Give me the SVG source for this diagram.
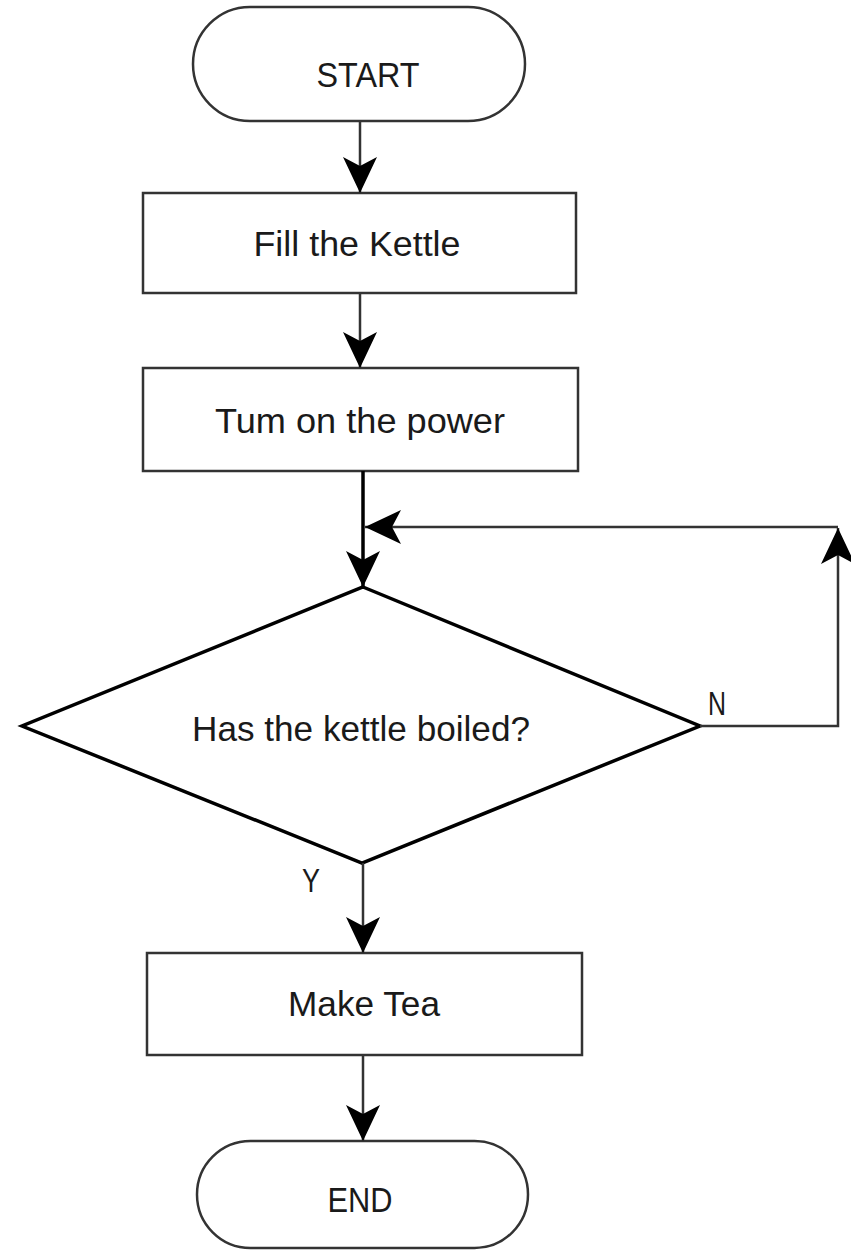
<svg xmlns="http://www.w3.org/2000/svg" width="851" height="1250" viewBox="0 0 851 1250">
<style>
.shape{fill:#fff;stroke:#333;stroke-width:2.5}
.dia{fill:#fff;stroke:#000;stroke-width:3.5}
.lbl{font-family:"Liberation Sans",Arial,sans-serif;font-size:35px;fill:#1a1a1a;text-anchor:middle}
.yn{font-family:"Liberation Sans",Arial,sans-serif;font-size:33px;fill:#1a1a1a}
.conn{fill:none;stroke:#333;stroke-width:2.5}
.thick{stroke:#000;stroke-width:3.5}
</style>
<defs>
<marker id="arr" viewBox="0 0 36 36" refX="36" refY="18" markerWidth="36" markerHeight="36" markerUnits="userSpaceOnUse" orient="auto">
<path d="M0,1 L36,18 L0,35 L9,18 Z" fill="#000"/>
</marker>
</defs>
<rect width="851" height="1250" fill="#fff"/>
<g id="start">
<rect class="shape" x="193" y="7" width="332" height="114" rx="57" ry="57"/>
<text class="lbl" x="368" y="87" textLength="103" lengthAdjust="spacingAndGlyphs">START</text>
</g>
<g id="fill">
<rect class="shape" x="143" y="193" width="433" height="100"/>
<text class="lbl" x="357" y="256" textLength="207" lengthAdjust="spacingAndGlyphs">Fill the Kettle</text>
</g>
<g id="turn">
<rect class="shape" x="143" y="368" width="435" height="103"/>
<text class="lbl" x="360" y="433" textLength="290" lengthAdjust="spacingAndGlyphs">Tum on the power</text>
</g>
<g id="decision">
<polygon class="dia" points="363,587 700,726 362,863 22,726"/>
<text class="lbl" x="361" y="741" textLength="338" lengthAdjust="spacingAndGlyphs">Has the kettle boiled?</text>
</g>
<g id="make">
<rect class="shape" x="147" y="953" width="435" height="102"/>
<text class="lbl" x="364" y="1016" textLength="152" lengthAdjust="spacingAndGlyphs">Make Tea</text>
</g>
<g id="end">
<rect class="shape" x="197" y="1141" width="331" height="107" rx="53.5" ry="53.5"/>
<text class="lbl" x="360" y="1212" textLength="65" lengthAdjust="spacingAndGlyphs">END</text>
</g>
<g id="connectors">
<path class="conn" d="M360,121 L360,193" marker-end="url(#arr)"/>
<path class="conn" d="M360,293 L360,368" marker-end="url(#arr)"/>
<path class="conn thick" d="M363,471 L363,587" marker-end="url(#arr)"/>
<path class="conn" d="M700,726 L838,726 L838,528" marker-end="url(#arr)"/>
<path class="conn" d="M838,527 L365,527" marker-end="url(#arr)"/>
<path class="conn" d="M363,863 L363,953" marker-end="url(#arr)"/>
<path class="conn" d="M363,1055 L363,1141" marker-end="url(#arr)"/>
<text class="yn" x="708" y="715" textLength="18" lengthAdjust="spacingAndGlyphs">N</text>
<text class="yn" x="302" y="892" textLength="18" lengthAdjust="spacingAndGlyphs">Y</text>
</g>
</svg>
